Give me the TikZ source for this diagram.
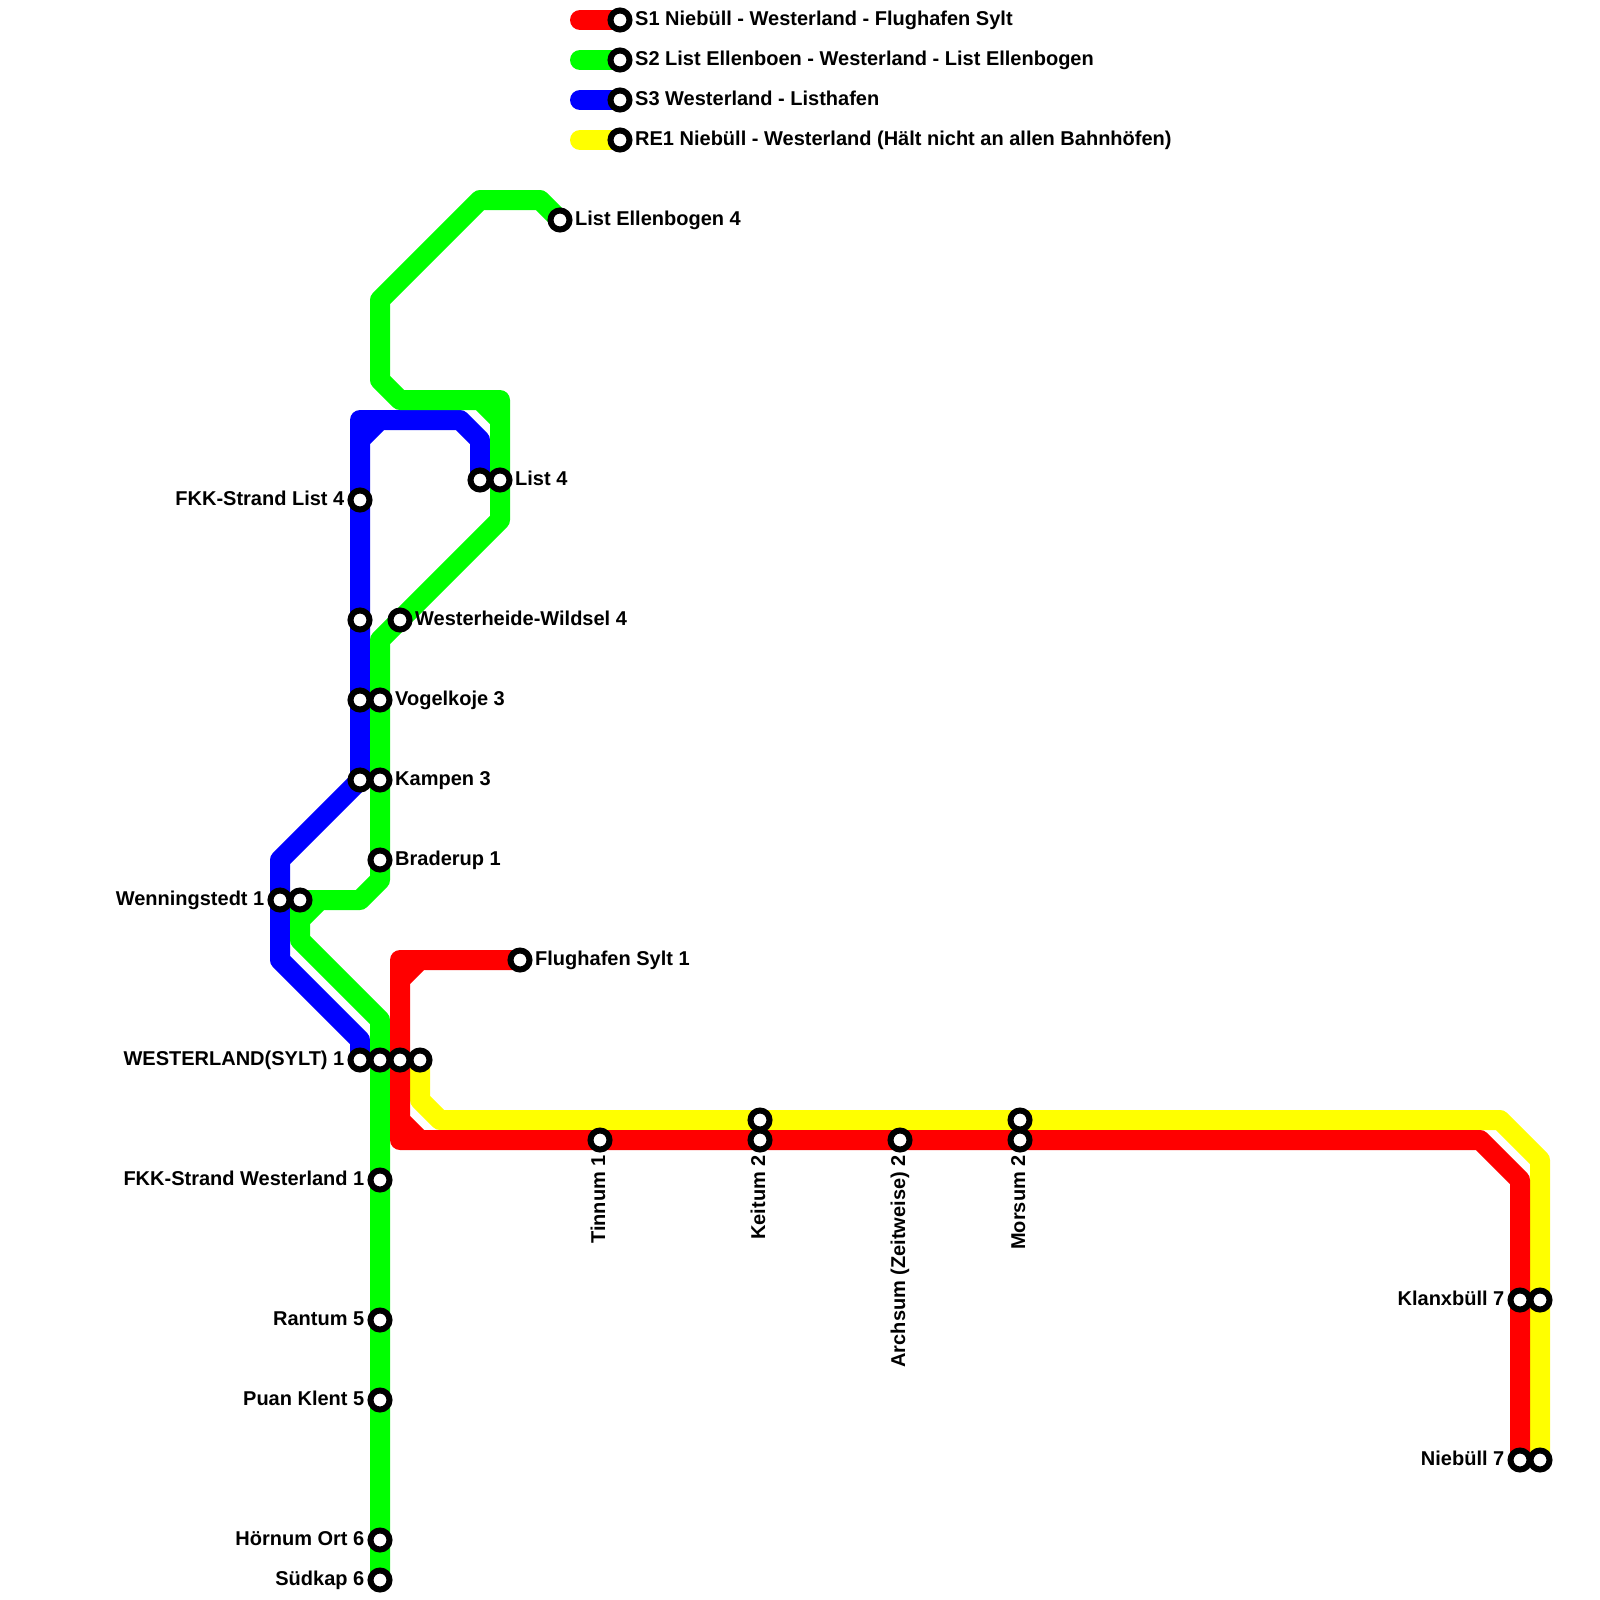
\documentclass[tikz,border=0pt]{standalone}
\usepackage{fontspec}
\setmainfont{Liberation Sans}
\usetikzlibrary{backgrounds,positioning}
\definecolor{lineS1}{RGB}{255,0,0}
\definecolor{lineS2}{RGB}{0,255,0}
\definecolor{lineS3}{RGB}{0,0,255}
\definecolor{lineRE}{RGB}{255,255,0}
\tikzset{
  track/.style={line width=20pt,line cap=round,line join=round},
  stop/.style={circle,draw=black,fill=white,line width=6pt,minimum size=19pt,inner sep=0pt},
  stoptext/.style={font=\fontsize{20}{22}\selectfont\bfseries,inner sep=0pt,text height=14.5pt,text depth=4.5pt}
}
\begin{document}
\begin{tikzpicture}[
        x=1pt,y=-1pt,
        rlabel/.style={stoptext,right=2.5pt of #1},
        llabel/.style={stoptext,left=3pt of #1},
        dlabel/.style={stoptext,below=1.5pt of #1,anchor=east,rotate=90,xshift=-1pt},
        keylabel/.style={rlabel=#1,yshift=-1pt}
      ]
        \useasboundingbox (0,0) rectangle (1600,1600);

        % legend
        \coordinate (capS1) at (580,20);
        \coordinate (capS2) at (580,60);
        \coordinate (capS3) at (580,100);
        \coordinate (capRE) at (580,140);
        \node[stop] (keyS1) at (620,20) {};
        \node[stop] (keyS2) at (620,60) {};
        \node[stop] (keyS3) at (620,100) {};
        \node[stop] (keyRE) at (620,140) {};
        \node[keylabel=keyS1] (textS1) {S1 Niebüll - Westerland - Flughafen Sylt};
        \node[keylabel=keyS2] (textS2) {S2 List Ellenboen - Westerland - List Ellenbogen};
        \node[keylabel=keyS3] (textS3) {S3 Westerland - Listhafen};
        \node[keylabel=keyRE] (textRE) {RE1 Niebüll - Westerland (Hält nicht an allen Bahnhöfen)};

        % north
        \node[stop] (listEnd) at (560,220) {};
        \node[stop] (listA) at (480,480) {};
        \node[stop] (listB) at (500,480) {};
        \node[stop] (fkkList) at (360,500) {};
        \node[stop] (wildA) at (360,620) {};
        \node[stop] (wildB) at (400,620) {};
        \node[stop] (vogelA) at (360,700) {};
        \node[stop] (vogelB) at (380,700) {};
        \node[stop] (kampenA) at (360,780) {};
        \node[stop] (kampenB) at (380,780) {};
        \node[stop] (brade) at (380,860) {};
        \node[stop] (wennA) at (280,900) {};
        \node[stop] (wennB) at (300,900) {};
        \node[stop] (airport) at (520,960) {};

        % westerland
        \node[stop] (westA) at (360,1060) {};
        \node[stop] (westB) at (380,1060) {};
        \node[stop] (westC) at (400,1060) {};
        \node[stop] (westD) at (420,1060) {};

        % south
        \node[stop] (fkkWest) at (380,1180) {};
        \node[stop] (rantum) at (380,1320) {};
        \node[stop] (puan) at (380,1400) {};
        \node[stop] (hoernum) at (380,1540) {};
        \node[stop] (suedkap) at (380,1580) {};

        % east
        \node[stop] (tinnum) at (600,1140) {};
        \node[stop] (keitumA) at (760,1120) {};
        \node[stop] (keitumB) at (760,1140) {};
        \node[stop] (archsum) at (900,1140) {};
        \node[stop] (morsumA) at (1020,1120) {};
        \node[stop] (morsumB) at (1020,1140) {};
        \node[stop] (klanxA) at (1520,1300) {};
        \node[stop] (klanxB) at (1540,1300) {};
        \node[stop] (niebA) at (1520,1460) {};
        \node[stop] (niebB) at (1540,1460) {};

        \node[rlabel=listEnd] (tListEnd) {List Ellenbogen 4};
        \node[rlabel=listB] (tList) {List 4};
        \node[llabel=fkkList] (tFkkList) {FKK-Strand List 4};
        \node[rlabel=wildB] (tWild) {Westerheide-Wildsel 4};
        \node[rlabel=vogelB] (tVogel) {Vogelkoje 3};
        \node[rlabel=kampenB] (tKampen) {Kampen 3};
        \node[rlabel=brade] (tBrade) {Braderup 1};
        \node[llabel=wennA] (tWenn) {Wenningstedt 1};
        \node[rlabel=airport] (tAirport) {Flughafen Sylt 1};
        \node[llabel=westA] (tWest) {WESTERLAND(SYLT) 1};
        \node[llabel=fkkWest] (tFkkWest) {FKK-Strand Westerland 1};
        \node[llabel=rantum] (tRantum) {Rantum 5};
        \node[llabel=puan] (tPuan) {Puan Klent 5};
        \node[llabel=hoernum] (tHoernum) {Hörnum Ort 6};
        \node[llabel=suedkap] (tSuedkap) {Südkap 6};
        \node[dlabel=tinnum] (tTinnum) {Tinnum 1};
        \node[dlabel=keitumB] (tKeitum) {Keitum 2};
        \node[dlabel=archsum] (tArchsum) {Archsum (Zeitweise) 2};
        \node[dlabel=morsumB] (tMorsum) {Morsum 2};
        \node[llabel=klanxA] (tKlanx) {Klanxbüll 7};
        \node[llabel=niebA] (tNieb) {Niebüll 7};

        \begin{pgfonlayer}{background}
          \fill[white] (0,0) rectangle (1600,1600);

          \draw[track,draw=lineS1] (capS1) -- (keyS1.center);
          \draw[track,draw=lineS2] (capS2) -- (keyS2.center);
          \draw[track,draw=lineS3] (capS3) -- (keyS3.center);
          \draw[track,draw=lineRE] (capRE) -- (keyRE.center);

          \draw[track,draw=lineS3] (westA.center) -- (360,1040) -- (280,960) -- (wennA.center) -- (280,860) -- (kampenA.center) -- (360,420) -- (460,420) -- (480,440) -- (listA.center)
            (380,420) -- (360,440);
          \draw[track,draw=lineS2] (suedkap.center) -- (westB.center) -- (380,1020) -- (300,940) -- (wennB.center) -- (360,900) -- (380,880) -- (brade.center) -- (380,640) -- (500,520) -- (listB.center) -- (500,400) -- (400,400) -- (380,380) -- (380,300) -- (480,200) -- (540,200) -- (listEnd.center)
            (320,900) -- (300,920) (480,400) -- (500,420);
          \draw[track,draw=lineRE] (westD.center) -- (420,1100) -- (440,1120) -- (1500,1120) -- (1540,1160) -- (niebB.center);
          \draw[track,draw=lineS1] (airport.center) -- (400,960) -- (400,1140) -- (1480,1140) -- (1520,1180) -- (niebA.center)
            (420,960) -- (400,980) (400,1120) -- (420,1140);
        \end{pgfonlayer}
      \end{tikzpicture}
\end{document}
